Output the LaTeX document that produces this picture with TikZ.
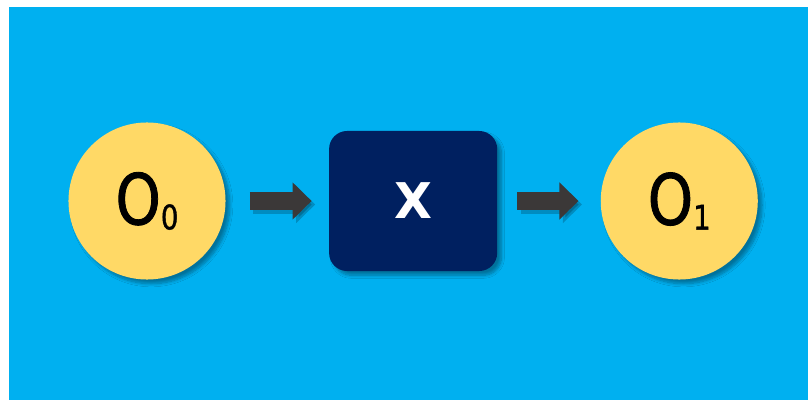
\documentclass[tikz,border=0pt]{standalone}
\usepackage{fontspec}
\setmainfont{DejaVu Sans}
\newfontfamily\tokenfont{DejaVu Sans}[FakeBold=1.3]
\definecolor{skyback}{RGB}{0, 176, 240}
\definecolor{tokenfill}{RGB}{255, 217, 102}
\definecolor{opfill}{RGB}{0, 32, 96}
\definecolor{flowgray}{RGB}{59, 56, 56}
\usetikzlibrary{arrows.meta, positioning, shadows.blur}

\newcommand{\tokenlabel}[1]{\scalebox{0.82}[1]{O\raisebox{-3.5pt}{\fontsize{24}{24}\selectfont #1}}}

\begin{document}
\begin{tikzpicture}[x=0.025cm, y=-0.025cm,
    token/.style={circle, fill=tokenfill, minimum size=3.925cm, inner sep=0pt,
        font=\fontsize{50}{50}\selectfont\tokenfont,
        blur shadow={shadow xshift=3pt, shadow yshift=-3pt, shadow blur steps=8, shadow opacity=35}},
    opbox/.style={rectangle, rounded corners=0.45cm, fill=opfill, minimum width=4.2cm,
        minimum height=3.5cm, text=white, font=\fontsize{35}{35}\selectfont\bfseries,
        blur shadow={shadow xshift=3pt, shadow yshift=-3pt, shadow blur steps=8, shadow opacity=35}},
    flow/.style={flowgray, line width=0.45cm, -{Triangle[length=0.475cm, width=0.9cm]}}]

                % Canvas
                \useasboundingbox (0,0) rectangle (808,400);
                \fill[white] (0,0) rectangle (808,400);
                \fill[skyback] (9,7) rectangle (808,400);

                % Tokens and operation
                \node[token] (o0) at (147,201) {\tokenlabel{0}};
                \node[opbox, right=2.575cm of o0] (x) {X};
                \node[token, right=2.575cm of x] (o1) {\tokenlabel{1}};

                % Flow arrows (shadow first)
                \foreach \a/\b/\gapin/\gapout in {o0/x/0.6cm/0.43cm, x/o1/0.5cm/0.55cm} {
                    \draw[flow, draw=black, fill=black, opacity=0.2, shorten <=\gapin, shorten >=\gapout,
                          transform canvas={shift={(2.5pt,-2.5pt)}}] (\a) -- (\b);
                    \draw[flow, shorten <=\gapin, shorten >=\gapout] (\a) -- (\b);
                }
            \end{tikzpicture}
\end{document}
